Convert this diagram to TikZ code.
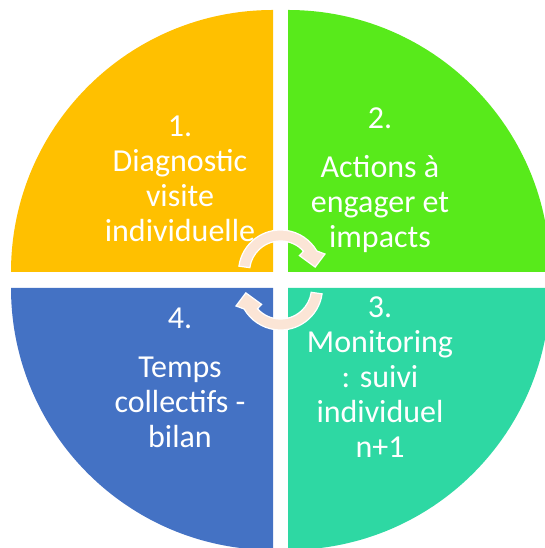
\documentclass[tikz,border=0pt]{standalone}
\usepackage{fontspec}
\setmainfont{Carlito}
\definecolor{quadone}{HTML}{FFC000}
\definecolor{quadtwo}{HTML}{58EA1B}
\definecolor{quadthree}{HTML}{2ED8A3}
\definecolor{quadfour}{HTML}{4472C4}
\definecolor{cyclefill}{HTML}{FBE5D6}
\begin{document}
\begin{tikzpicture}[x=1pt,y=1pt]
\tikzstyle{quadtext}=[text=white,align=center,inner sep=0pt,anchor=base,font=\fontsize{32}{35}\selectfont]
\tikzstyle{cyclearrow}=[fill=cyclefill,draw=white,line width=1.2pt]
\useasboundingbox (0,0) rectangle (544,548);
\fill [quadone] (273,276) -- (11,276) arc (180:90:262) -- cycle;
\fill [quadtwo] (288,276) -- (288,538) arc (90:0:262) -- cycle;
\fill [quadthree] (288,260) -- (550,260) arc (0:-90:262) -- cycle;
\fill [quadfour] (273,260) -- (273,-2) arc (-90:-180:262) -- cycle;
\draw [cyclearrow,shift={(280.5,276)}] (172:42) arc (172:30:42) -- (22:48) -- (8:35) -- (41:25) -- (42:31) arc (42:172:31) -- cycle;
\draw [cyclearrow,shift={(280.5,260)},rotate=180] (172:42) arc (172:30:42) -- (22:48) -- (8:35) -- (41:25) -- (42:31) arc (42:172:31) -- cycle;
\node [quadtext] (diag) at (180,306) {1.\\Diagnostic\\visite\\individuelle};
\node [quadtext] (actions) at (380,300) {2.\\[14pt]Actions à\\engager et\\impacts};
\node [quadtext] (suivi) at (380,90) {3.\\Monitoring\\: suivi\\individuel\\n+1};
\node [quadtext] (bilan) at (180,100) {4.\\[14pt]Temps\\collectifs -\\bilan};
\end{tikzpicture}
\end{document}
